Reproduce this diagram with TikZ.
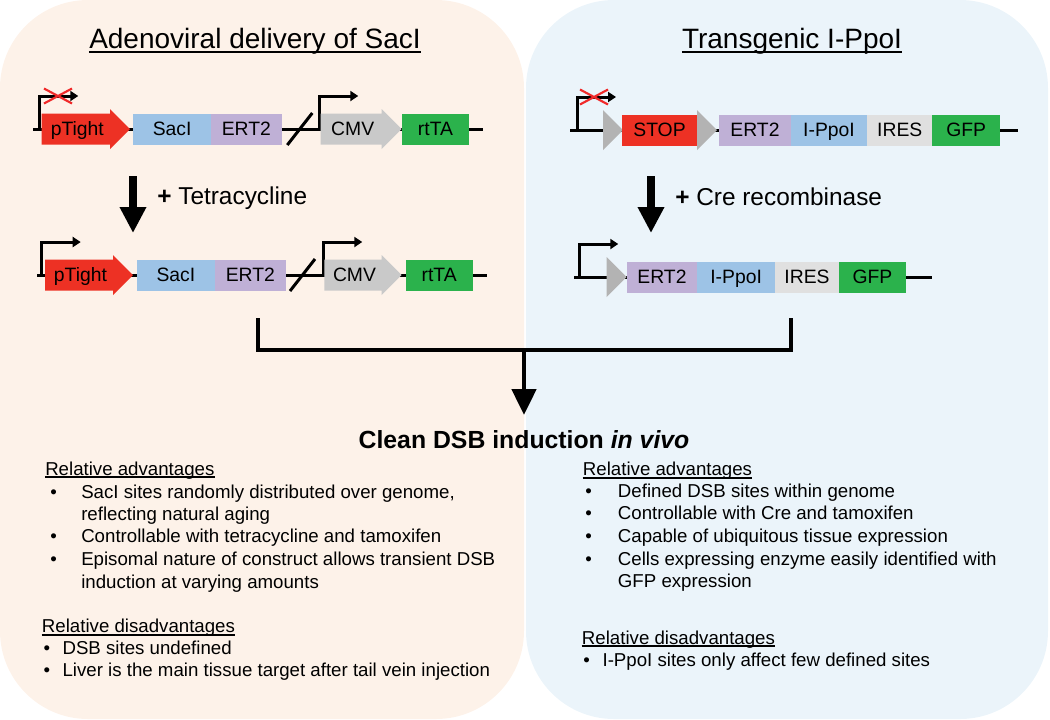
\documentclass[tikz,border=0pt]{standalone}
\usepackage{fontspec}
\setmainfont{Liberation Sans}
\usepackage{tikz}
\usetikzlibrary{positioning, arrows.meta}
\definecolor{leftPanelColor}{HTML}{FDF2E9}
\definecolor{rightPanelColor}{HTML}{EBF4FA}
\definecolor{tightColor}{HTML}{ED3124}
\definecolor{sacColor}{HTML}{9DC3E6}
\definecolor{ertColor}{HTML}{BFB0D6}
\definecolor{cmvColor}{HTML}{C9C9C9}
\definecolor{gfpColor}{HTML}{2BB24C}
\definecolor{iresColor}{HTML}{E0E0E0}
\definecolor{loxColor}{HTML}{B3B3B3}
\definecolor{blockColor}{HTML}{F02A2A}
\tikzstyle{diagram} = [x = 0.75pt, y = -0.75pt]
\tikzstyle{boxText} = [inner sep = 0, text height = 10.5pt, text depth = 0.5pt, font = \fontsize{14.5}{16}\selectfont]
\tikzstyle{geneBoxStyle} = [boxText, minimum height = 23.25pt]
\tikzstyle{backbone} = [line width = 2.25pt]
\tikzstyle{promoterLine} = [line width = 2.25pt, -{Triangle[length = 6pt, width = 7.5pt]}]
\tikzstyle{blockStyle} = [color = blockColor, line width = 1.6pt]
\tikzstyle{breakStyle} = [line width = 2.25pt]
\tikzstyle{stepArrowStyle} = [line width = 6pt, -{Triangle[length = 19.5pt, width = 18.75pt]}]
\tikzstyle{stepText} = [anchor = west, inner sep = 0, font = \fontsize{18.3}{22}\selectfont]
\tikzstyle{titleText} = [anchor = base, inner sep = 0, font = \fontsize{21}{25}\selectfont]
\tikzstyle{bodyText} = [anchor = base west, inner sep = 0, font = \fontsize{14}{17}\selectfont]
\tikzstyle{underLine} = [line width = 1.1pt]
\tikzstyle{mergeLine} = [line width = 2.6pt]
\tikzstyle{mergeArrow} = [line width = 3.6pt, -{Triangle[length = 19.5pt, width = 18pt]}]
\newcommand{\geneBox}[6]{\node [geneBoxStyle, fill = #5, minimum width = {(#3 - #2) * 0.75pt}] (#1) at ({(#2 + #3) / 2}, #4) {#6};}
\newcommand{\promoterArrow}[6]{\fill [#5] (#2, #4 - 15.5) -- (#3 - 20, #4 - 15.5) -- (#3 - 20, #4 - 20) -- (#3, #4) -- (#3 - 20, #4 + 20) -- (#3 - 20, #4 + 15.5) -- (#2, #4 + 15.5) -- cycle;
  \node [boxText] (#1) at ({(#2 + #3 - 17) / 2}, #4) {#6};}
\newcommand{\promoterBend}[3]{\coordinate (#1) at (#2, #3); \draw [promoterLine] (#1) |- +(39, -33);}
\newcommand{\blockedMark}[2]{\draw [blockStyle] (#1 - 14, #2 - 7.5) -- (#1 + 14, #2 + 7.5); \draw [blockStyle] (#1 - 14, #2 + 7.5) -- (#1 + 14, #2 - 7.5);}
\newcommand{\breakMark}[3]{\coordinate (#1) at (#2, #3); \draw [breakStyle] ([shift = {(-12.5, 16)}] #1) -- ([shift = {(12.5, -16)}] #1);}
\newcommand{\loxSite}[3]{\fill [loxColor] (#2, #3 - 20) -- (#2 + 20, #3) -- (#2, #3 + 20) -- cycle; \coordinate (#1) at (#2 + 10, #3);}
\newcommand{\stepArrow}[4]{\coordinate (#1Top) at (#2, #3); \coordinate (#1Bottom) at (#2, #4); \draw [stepArrowStyle] (#1Top) -- (#1Bottom);}
\newcommand{\backboneLine}[4]{\coordinate (#1Start) at (#2, #4); \coordinate (#1End) at (#3, #4); \draw [backbone] (#1Start) -- (#1End);}
\newcommand{\textLine}[4]{\node [bodyText] (#1) at (#2, #3) {#4};}
\newcommand{\headLine}[4]{\node [bodyText] (#1) at (#2, #3) {#4}; \draw [underLine] ([yshift = -1.6pt] #1.base west) -- ([yshift = -1.6pt] #1.base east);}
\newcommand{\bulletItem}[5]{\node [bodyText] (#1Dot) at (#2, #4) {•}; \node [bodyText] (#1) at (#3, #4) {#5};}
\begin{document}
\begin{tikzpicture}[diagram]
\useasboundingbox (0, 0) rectangle (1050, 719);
\fill [leftPanelColor, rounded corners = 66pt] (0, 0) rectangle (524, 719);
\fill [rightPanelColor, rounded corners = 66pt] (526, 0) rectangle (1048, 719);
\node [titleText] (adenoTitle) at (255, 48) {Adenoviral delivery of SacI};
\node [titleText] (transTitle) at (792, 48) {Transgenic I-PpoI};
\draw [line width = 1.5pt] ([yshift = -3pt] adenoTitle.base west) -- ([yshift = -3pt] adenoTitle.base east);
\draw [line width = 1.5pt] ([yshift = -3pt] transTitle.base west) -- ([yshift = -3pt] transTitle.base east);
        \backboneLine{tetOff}{33}{483}{129}
        \promoterBend{tetOffPromoter}{39.3}{129}
        \blockedMark{58}{96}
        \promoterArrow{tetOffTight}{41.7}{130}{129}{tightColor}{pTight}
        \geneBox{tetOffSac}{133.3}{211}{129}{sacColor}{SacI}
        \geneBox{tetOffErt}{211}{281.7}{129}{ertColor}{ERT2}
        \breakMark{tetOffBreak}{299.8}{129}
        \promoterBend{tetOffCmvPromoter}{319.3}{129}
        \promoterArrow{tetOffCmv}{320.7}{401.7}{129}{cmvColor}{CMV}
        \geneBox{tetOffRtta}{401.7}{469.3}{129}{gfpColor}{rtTA}
        \stepArrow{tetStep}{133}{176}{233}
        \node [stepText] (tetLabel) at (157, 198) {\textbf{+} Tetracycline};
        \backboneLine{tetOn}{37}{487}{275}
        \promoterBend{tetOnPromoter}{41.7}{275}
        \promoterArrow{tetOnTight}{45}{133}{275}{tightColor}{pTight}
        \geneBox{tetOnSac}{136.7}{215}{275}{sacColor}{SacI}
        \geneBox{tetOnErt}{215}{285.7}{275}{ertColor}{ERT2}
        \breakMark{tetOnBreak}{302.5}{275}
        \promoterBend{tetOnCmvPromoter}{323.3}{275}
        \promoterArrow{tetOnCmv}{324.3}{401.7}{275}{cmvColor}{CMV}
        \geneBox{tetOnRtta}{405.7}{472.7}{275}{gfpColor}{rtTA}
        \backboneLine{floxed}{570}{1018}{130}
        \promoterBend{floxedPromoter}{577}{130}
        \blockedMark{594}{97}
        \loxSite{floxedLoxA}{603}{130}
        \geneBox{floxedStop}{622}{697}{130}{tightColor}{STOP}
        \loxSite{floxedLoxB}{697}{130}
        \geneBox{floxedErt}{719.3}{790.7}{130}{ertColor}{ERT2}
        \geneBox{floxedPpo}{790.7}{867.3}{130}{sacColor}{I-PpoI}
        \geneBox{floxedIres}{867.3}{932.3}{130}{iresColor}{IRES}
        \geneBox{floxedGfp}{932.3}{1000}{130}{gfpColor}{GFP}
        \stepArrow{creStep}{651}{176}{233}
        \node [stepText] (creLabel) at (675, 197) {\textbf{+} Cre recombinase};
        \backboneLine{excised}{574.3}{932.3}{277}
        \promoterBend{excisedPromoter}{579.3}{277}
        \loxSite{excisedLox}{606.7}{277}
        \geneBox{excisedErt}{626.7}{697.3}{277}{ertColor}{ERT2}
        \geneBox{excisedPpo}{697.3}{775}{277}{sacColor}{I-PpoI}
        \geneBox{excisedIres}{775}{839}{277}{iresColor}{IRES}
        \geneBox{excisedGfp}{839}{906}{277}{gfpColor}{GFP}
\coordinate (mergeLeft) at (258, 318);
\coordinate (mergeRight) at (791, 318);
\coordinate (mergeMid) at (524, 350);
\coordinate (mergeTip) at (524, 415);
\draw [mergeLine] (mergeLeft) |- (mergeMid) -| (mergeRight);
\draw [mergeArrow] (mergeMid) -- (mergeTip);
\node [inner sep = 0, font = \fontsize{18.6}{22}\selectfont\bfseries] (cleanLabel) at (524, 440) {Clean DSB induction \textit{in vivo}};
        \headLine{adenoProsHead}{45}{475}{Relative advantages}
        \bulletItem{adenoProsA}{50}{81}{498}{SacI sites randomly distributed over genome,}
        \textLine{adenoProsAb}{81}{520}{reflecting natural aging}
        \bulletItem{adenoProsB}{50}{81}{542.5}{Controllable with tetracycline and tamoxifen}
        \bulletItem{adenoProsC}{50}{81}{565}{Episomal nature of construct allows transient DSB}
        \textLine{adenoProsCb}{81}{588}{induction at varying amounts}
        \headLine{adenoConsHead}{41.7}{632.7}{Relative disadvantages}
        \bulletItem{adenoConsA}{43.3}{62.3}{654.5}{DSB sites undefined}
        \bulletItem{adenoConsB}{43.3}{62.3}{676.7}{Liver is the main tissue target after tail vein injection}
        \headLine{transProsHead}{582.7}{475.7}{Relative advantages}
        \bulletItem{transProsA}{585}{617.7}{497.7}{Defined DSB sites within genome}
        \bulletItem{transProsB}{585}{617.7}{519.7}{Controllable with Cre and tamoxifen}
        \bulletItem{transProsC}{585}{617.7}{542.3}{Capable of ubiquitous tissue expression}
        \bulletItem{transProsD}{585}{617.7}{565}{Cells expressing enzyme easily identified with}
        \textLine{transProsDb}{617.7}{587.7}{GFP expression}
        \headLine{transConsHead}{581.7}{644}{Relative disadvantages}
        \bulletItem{transConsA}{583}{602.3}{666}{I-PpoI sites only affect few defined sites}
\end{tikzpicture}
\end{document}
